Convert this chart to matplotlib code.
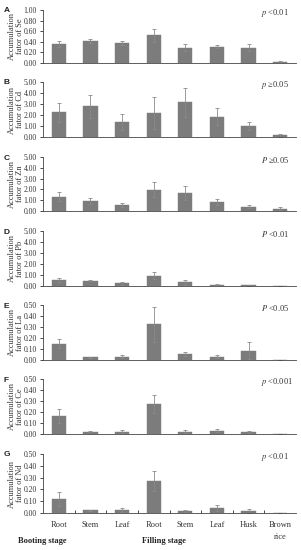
import numpy as np
import matplotlib
matplotlib.use('Agg')
import matplotlib.pyplot as plt

plt.rcParams['font.family'] = ['Liberation Serif', 'DejaVu Serif']
plt.rcParams['mathtext.fontset'] = 'stix'

# categories
cats = ['Root', 'Stem', 'Leaf', 'Root', 'Stem', 'Leaf', 'Husk', 'Brown\nrice']

# accumulation factors (mean) and upper error
se = [0.36, 0.41, 0.38, 0.52, 0.29, 0.31, 0.29, 0.02]
se_err = [0.05, 0.04, 0.035, 0.13, 0.065, 0.03, 0.06, 0.01]
cd = [2.25, 2.80, 1.35, 2.15, 3.15, 1.85, 1.00, 0.15]
cd_err = [0.85, 1.05, 0.75, 1.45, 1.30, 0.80, 0.40, 0.12]
zn = [1.31, 0.91, 0.58, 1.98, 1.65, 0.79, 0.40, 0.21]
zn_err = [0.43, 0.28, 0.18, 0.73, 0.64, 0.28, 0.12, 0.16]
pb = [0.55, 0.50, 0.24, 0.95, 0.33, 0.12, 0.05, 0.02]
pb_err = [0.16, 0.07, 0.16, 0.30, 0.22, 0.06, 0.02, 0.01]
la = [0.148, 0.024, 0.030, 0.324, 0.058, 0.030, 0.085, 0.0]
la_err = [0.042, 0.006, 0.015, 0.161, 0.018, 0.012, 0.075, 0.0]
ce = [0.163, 0.021, 0.021, 0.271, 0.021, 0.030, 0.018, 0.002]
ce_err = [0.060, 0.006, 0.012, 0.084, 0.012, 0.015, 0.009, 0.001]
nd = [0.115, 0.022, 0.028, 0.270, 0.017, 0.039, 0.017, 0.0]
nd_err = [0.059, 0.004, 0.017, 0.087, 0.011, 0.026, 0.017, 0.0]

letters = ['A', 'B', 'C', 'D', 'E', 'F', 'G']
elements = ['Se', 'Cd', 'Zn', 'Pb', 'La', 'Ce', 'Nd']
pvals = ['<0.01', '\u22650.05', '\u22650.05', '<0.01', '<0.05', '<0.001', '<0.01']
pletter = ['p', 'p', 'P', 'P', 'P', 'p', 'p']
ymaxes = [1.0, 5.0, 5.0, 5.0, 0.5, 0.5, 0.5]
means = [se, cd, zn, pb, la, ce, nd]
errs = [se_err, cd_err, zn_err, pb_err, la_err, ce_err, nd_err]

# pixel rows (top, zero line) for each panel
rows = [(10, 63), (82, 137), (157, 211), (231, 286), (305, 360), (379, 434), (454, 513)]

W, H = 301, 550
fig = plt.figure(figsize=(W / 100, H / 100), dpi=100)
x = np.arange(len(cats))

for i in range(7):
    top, zero = rows[i]
    ax = fig.add_axes([43 / W, 1 - zero / H, 253 / W, (zero - top) / H])
    m = np.array(means[i])
    e = np.array(errs[i])
    ax.bar(x, m, width=0.45, color='#7c7c7c', edgecolor='#7c7c7c', linewidth=0.3)
    ax.errorbar(x, m, yerr=e, fmt='none', ecolor='#8a8a8a', elinewidth=0.6,
                capsize=1.3, capthick=0.6)
    ymax = ymaxes[i]
    ax.set_xlim(-0.5, 7.5)
    ax.set_ylim(0, ymax)
    ax.set_yticks(np.linspace(0, ymax, 6))
    ax.set_yticklabels(['%.2f' % v for v in np.linspace(0, ymax, 6)], fontsize=5.5, color='#333333')
    ax.tick_params(axis='y', length=2, width=0.5, pad=2.5)
    for s in ['top', 'right']:
        ax.spines[s].set_visible(False)
    ax.spines['left'].set_linewidth(0.6)
    ax.spines['bottom'].set_linewidth(0.6)
    ax.spines['left'].set_color('#444444')
    ax.spines['bottom'].set_color('#444444')
    if i < 6:
        ax.set_xticks([])
    else:
        ax.set_xticks(x)
        ax.set_xticklabels(cats, fontsize=6, color='#333333', linespacing=1.6)
        ax.tick_params(axis='x', length=0, pad=6)
        ax.set_xticks(np.arange(0.5, 7.5, 1), minor=True)
        ax.tick_params(axis='x', which='minor', direction='in', length=2, width=0.5)
    ax.set_ylabel('Accumulation\nfator of ' + elements[i], fontsize=6, color='#333333',
                  linespacing=1.0)
    ax.yaxis.set_label_coords(-0.075, 0.5)
    fig.text(4 / W, 1 - (top + 1) / H, letters[i], fontsize=6, fontweight='bold',
             family='Liberation Sans', va='center', color='#222222')
    fig.text(261 / W, 1 - (top + 3) / H, '$\\it{' + pletter[i] + '}$ ' + pvals[i],
             fontsize=6, va='center', color='#333333')

fig.text(18 / W, 1 - 541 / H, 'Booting stage', fontsize=6, fontweight='bold',
         va='center', color='#222222')
fig.text(142 / W, 1 - 541 / H, 'Filling stage', fontsize=6, fontweight='bold',
         va='center', color='#222222')

fig.savefig('out.png', dpi=100)
